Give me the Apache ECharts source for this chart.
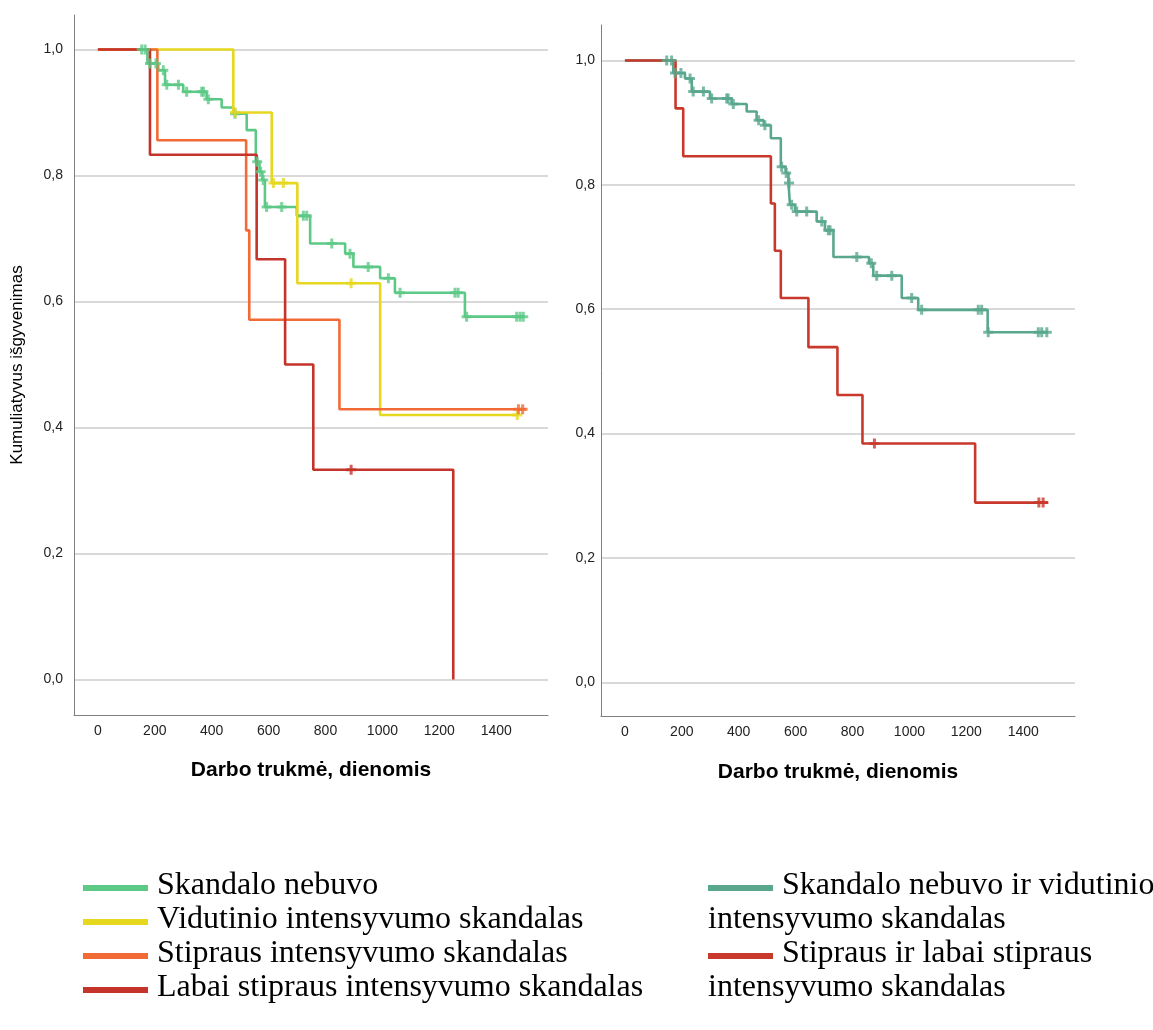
<!DOCTYPE html>
<html>
<head>
<meta charset="utf-8">
<script src="https://cdn.jsdelivr.net/npm/echarts@6/dist/echarts.min.js"></script>
<style>
html,body{margin:0;padding:0;background:#fff;}
#c{width:1153px;height:1030px;}
</style>
</head>
<body>
<div id="c"></div>
<script>
// ---------- tick labels ----------
const dayTicks = [0, 200, 400, 600, 800, 1000, 1200, 1400];
const survivalTicks = [0, 0.2, 0.4, 0.6, 0.8, 1.0];

// ---------- legend / series names ----------
const leftNames = ['Skandalo nebuvo', 'Vidutinio intensyvumo skandalas', 'Stipraus intensyvumo skandalas', 'Labai stipraus intensyvumo skandalas'];
const rightNames = ['Skandalo nebuvo ir vidutinio intensyvumo skandalas', 'Stipraus ir labai stipraus intensyvumo skandalas'];
const rightFirstLines = ['Skandalo nebuvo ir vidutinio', 'Stipraus ir labai stipraus'];
const rightSecondLines = ['intensyvumo skandalas', 'intensyvumo skandalas'];

// ---------- left chart: [day, cumulative survival] step points ----------
const noScandal = [[0,1],[174,0.978],[212,0.967],[236,0.944],[300,0.933],[382,0.921],[435,0.908],[476,0.898],[523,0.872],[555,0.822],[568,0.806],[578,0.793],[587,0.750],[699,0.736],[746,0.692],[869,0.676],[898,0.655],[992,0.637],[1044,0.614],[1290,0.576],[1500,0.576]];
const noScandalCensored = [[154,1],[166,1],[183,0.978],[204,0.978],[230,0.967],[242,0.944],[283,0.944],[312,0.933],[365,0.933],[371,0.933],[388,0.921],[482,0.898],[560,0.822],[572,0.806],[581,0.793],[593,0.750],[646,0.750],[722,0.736],[734,0.736],[822,0.692],[886,0.676],[950,0.655],[1021,0.637],[1062,0.614],[1255,0.614],[1266,0.614],[1296,0.576],[1472,0.576],[1484,0.576],[1495,0.576]];

const medium = [[0,1],[476,0.900],[611,0.788],[701,0.629],[992,0.420],[1478,0.420]];
const mediumCensored = [[482,0.900],[617,0.788],[652,0.788],[890,0.629],[1474,0.420]];

const strong = [[0,1],[209,0.856],[521,0.713],[532,0.571],[849,0.429],[1505,0.429]];
const strongCensored = [[1478,0.429],[1493,0.429]];

const veryStrong = [[0,1],[183,0.833],[558,0.667],[658,0.5],[757,0.333],[1249,0]];
const veryStrongCensored = [[890,0.333]];

// ---------- right chart ----------
const noOrMedium = [[0,1],[170,0.980],[211,0.971],[235,0.950],[299,0.939],[375,0.930],[428,0.918],[463,0.904],[488,0.896],[513,0.875],[548,0.829],[565,0.819],[575,0.803],[580,0.768],[598,0.757],[674,0.741],[703,0.727],[733,0.684],[858,0.674],[873,0.654],[973,0.618],[1031,0.599],[1275,0.563],[1488,0.563]];
const noOrMediumCensored = [[147,1],[164,1],[176,0.980],[197,0.980],[229,0.971],[240,0.950],[276,0.950],[305,0.939],[358,0.939],[363,0.939],[381,0.930],[470,0.904],[492,0.896],[551,0.829],[567,0.819],[577,0.803],[586,0.768],[604,0.757],[639,0.757],[692,0.741],[715,0.727],[721,0.727],[815,0.684],[866,0.674],[885,0.654],[938,0.654],[1008,0.618],[1043,0.599],[1242,0.599],[1254,0.599],[1277,0.563],[1453,0.563],[1465,0.563],[1483,0.563]];

const strongOrVery = [[0,1],[178,0.923],[205,0.846],[513,0.770],[527,0.694],[548,0.618],[645,0.539],[747,0.462],[835,0.384],[1231,0.289],[1488,0.289]];
const strongOrVeryCensored = [[877,0.384],[1455,0.289],[1470,0.289]];

// ---------- styling ----------
const sans = "'Liberation Sans', Arial, sans-serif";
const serif = "'Liberation Serif', 'Times New Roman', serif";
const censorSymbol = 'path://M3.5,0H6.5V3.5H10V6.5H6.5V10H3.5V6.5H0V3.5H3.5Z';
const colors = {
  green: '#5cc986', yellow: '#e6d71f', orange: '#f26b36', darkRed: '#c4342a',
  teal: '#5aa78f', red: '#c8392c'
};

function xAx(gi) {
  return {
    type: 'value', gridIndex: gi, min: -84, max: 1582,
    name: 'Darbo trukmė, dienomis', nameLocation: 'middle', nameGap: 45,
    nameTextStyle: { fontFamily: sans, fontSize: 21, fontWeight: 'bold', color: '#000' },
    axisLine: { show: true, onZero: false, lineStyle: { color: '#808080', width: 1 } },
    axisTick: { show: false, customValues: dayTicks },
    axisLabel: { customValues: dayTicks, margin: 9, fontFamily: sans, fontSize: 14, color: '#222',
      formatter: function (v) { return String(v); } },
    splitLine: { show: false }
  };
}
function yAx(gi, min, max, margin, name) {
  return {
    type: 'value', gridIndex: gi, min: min, max: max,
    name: name, nameLocation: 'middle', nameRotate: 90, nameGap: 48,
    nameTextStyle: { fontFamily: sans, fontSize: 17, color: '#000' },
    axisLine: { show: true, onZero: false, lineStyle: { color: '#808080', width: 1 } },
    axisTick: { show: false, customValues: survivalTicks },
    axisLabel: { customValues: survivalTicks, margin: margin, fontFamily: sans, fontSize: 14, color: '#222',
      formatter: function (v) { return v.toFixed(1).replace('.', ','); } },
    splitLine: { show: true, lineStyle: { color: '#cdcdcd', width: 1.5 } }
  };
}
function curve(name, data, color, gi, z) {
  return {
    type: 'line', name: name, xAxisIndex: gi, yAxisIndex: gi, data: data, step: 'end',
    showSymbol: false, symbol: 'none', silent: true, z: z,
    lineStyle: { color: color, width: 2.6 }, itemStyle: { color: color }
  };
}
function censor(name, data, color, gi) {
  return {
    type: 'scatter', name: name + ' (cenzūruota)', xAxisIndex: gi, yAxisIndex: gi, data: data,
    symbol: censorSymbol, symbolSize: 10, silent: true, z: 10,
    itemStyle: { color: color }
  };
}

const legendRich = { t: { fontFamily: serif, fontSize: 32, color: '#000', padding: [0, 0, 4, 4] } };

const option = {
  animation: false,
  backgroundColor: '#fff',
  grid: [
    { left: 74, top: 15, width: 474, height: 700 },
    { left: 601, top: 25, width: 474, height: 691.5 }
  ],
  xAxis: [xAx(0), xAx(1)],
  yAxis: [
    yAx(0, -0.0563, 1.0548, 11, 'Kumuliatyvus išgyvenimas'),
    yAx(1, -0.055, 1.0571, 6, '')
  ],
  legend: [
    {
      orient: 'vertical', left: 83, top: 870, height: 200, padding: 0,
      itemWidth: 65, itemHeight: 6, itemGap: 2, icon: 'rect', selectedMode: false,
      data: leftNames, formatter: '{t|{name}}', textStyle: { rich: legendRich }
    },
    {
      orient: 'vertical', left: 708, top: 870, height: 200, padding: 0,
      itemWidth: 65, itemHeight: 6, itemGap: 36, icon: 'rect', selectedMode: false,
      data: rightNames,
      formatter: function (n) { return '{t|' + rightFirstLines[rightNames.indexOf(n)] + '}'; },
      textStyle: { rich: legendRich }
    }
  ],
  graphic: rightSecondLines.map(function (txt, i) {
    return {
      type: 'text', x: 708, y: 920 + i * 68, silent: true,
      style: { text: txt, font: '32px ' + serif, fill: '#000', verticalAlign: 'middle', textVerticalAlign: 'middle' }
    };
  }),
  series: [
    curve(leftNames[0], noScandal, colors.green, 0, 2),
    curve(leftNames[1], medium, colors.yellow, 0, 3),
    curve(leftNames[2], strong, colors.orange, 0, 4),
    curve(leftNames[3], veryStrong, colors.darkRed, 0, 5),
    censor(leftNames[0], noScandalCensored, colors.green, 0),
    censor(leftNames[1], mediumCensored, colors.yellow, 0),
    censor(leftNames[2], strongCensored, colors.orange, 0),
    censor(leftNames[3], veryStrongCensored, colors.darkRed, 0),
    curve(rightNames[0], noOrMedium, colors.teal, 1, 2),
    curve(rightNames[1], strongOrVery, colors.red, 1, 3),
    censor(rightNames[0], noOrMediumCensored, colors.teal, 1),
    censor(rightNames[1], strongOrVeryCensored, colors.red, 1)
  ]
};

const chart = echarts.init(document.getElementById('c'), null, { renderer: 'canvas' });
chart.setOption(option);
</script>
</body>
</html>
